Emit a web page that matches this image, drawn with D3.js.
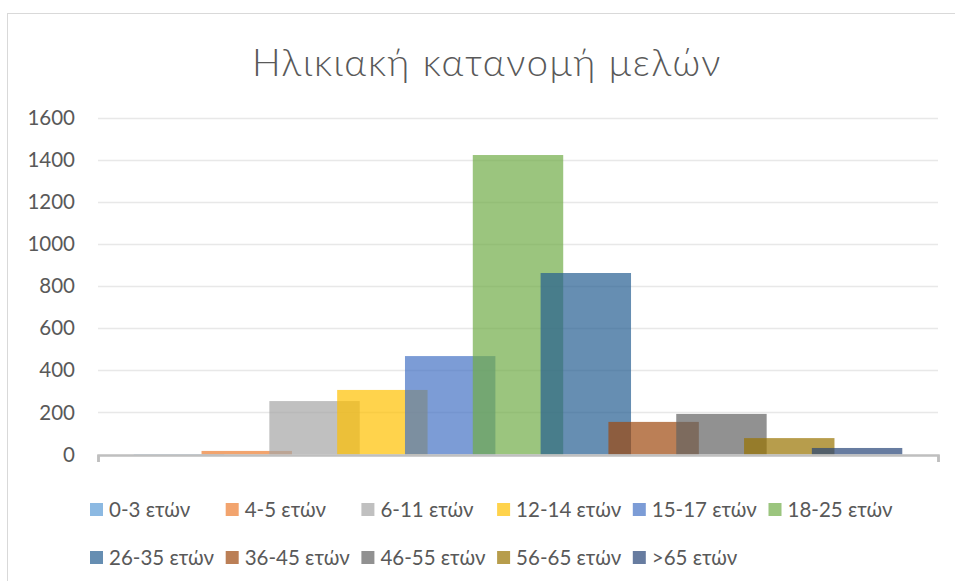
<!DOCTYPE html>
<html>
<head>
<meta charset="utf-8">
<script src="https://cdn.jsdelivr.net/npm/d3@7"></script>
<style>
  body { margin: 0; background: #fff; }
  text { font-family: Lato, "Open Sans", "Noto Sans", sans-serif; fill: #595959; }
</style>
</head>
<body>
<script>
//==============================================================================
// DATA
//==============================================================================

const title = 'Ηλικιακή κατανομή μελών';
const category = ['Μέλη'];
const series = ['0-3 ετών', '4-5 ετών', '6-11 ετών', '12-14 ετών', '15-17 ετών', '18-25 ετών',
  '26-35 ετών', '36-45 ετών', '46-55 ετών', '56-65 ετών', '>65 ετών'];
const values = [2, 17, 254, 307, 468, 1424, 863, 155, 193, 78, 31];
const yTicks = [0, 200, 400, 600, 800, 1000, 1200, 1400, 1600];
const colors = ['#5B9BD5', '#ED7D31', '#A5A5A5', '#FFC000', '#4472C4', '#70AD47',
  '#255E91', '#9E480E', '#636363', '#997300', '#264478'];

//==============================================================================
// PARAMETERS
//==============================================================================

const W = 955, H = 581;
const plot = { left: 98, right: 938, top: 118, bottom: 454.5 };
const overlap = 0.25, gapWidth = 0.79;

const svg = d3.select('body').append('svg')
  .attr('width', W)
  .attr('height', H);

// chart frame
svg.append('rect')
  .attr('x', 7.5).attr('y', 13.5)
  .attr('width', 1000).attr('height', 700)
  .attr('fill', '#fff')
  .attr('stroke', '#D9D9D9');

// scales
const y = d3.scaleLinear().domain([0, 1600]).range([plot.bottom, plot.top]);
const xCat = d3.scaleBand().domain(category).range([plot.left, plot.right]);
const barW = xCat.bandwidth() / (1 + (series.length - 1) * (1 - overlap) + gapWidth);
const groupW = barW * (1 + (series.length - 1) * (1 - overlap));
const xSeries = d3.scalePoint().domain(series)
  .range([0, groupW - barW])
  .padding(0);
const color = d3.scaleOrdinal().domain(series).range(colors);

//==============================================================================
// DRAW
//==============================================================================

// title
svg.append('text')
  .attr('x', 487).attr('y', 76)
  .attr('text-anchor', 'middle')
  .style('font-size', '38px')
  .style('font-weight', 300)
  .style('letter-spacing', '1.6px')
  .text(title);

// gridlines
svg.append('g')
  .selectAll('line')
  .data(yTicks.filter(d => d > 0))
  .join('line')
  .attr('x1', plot.left).attr('x2', plot.right)
  .attr('y1', d => Math.round(y(d)) + 0.5)
  .attr('y2', d => Math.round(y(d)) + 0.5)
  .attr('stroke', '#E8E8E8')
  .attr('stroke-width', 1.5);

// y axis labels
const yAxis = svg.append('g')
  .attr('transform', `translate(${plot.left - 23},0)`)
  .call(d3.axisLeft(y).tickValues(yTicks).tickSize(0).tickPadding(0)
    .tickFormat(d3.format('d')));
yAxis.select('.domain').remove();
yAxis.selectAll('text')
  .attr('fill', '#595959')
  .style('font-size', '20.5px')
  .style('font-family', 'Lato, "Open Sans", sans-serif');

// bars
const x0 = xCat(category[0]) + (xCat.bandwidth() - groupW) / 2;
svg.append('g')
  .selectAll('rect')
  .data(series.map((s, i) => ({ s, v: values[i] })))
  .join('rect')
  .attr('x', d => x0 + xSeries(d.s))
  .attr('y', d => y(d.v))
  .attr('width', barW)
  .attr('height', d => y(0) - y(d.v))
  .attr('fill', d => color(d.s))
  .attr('fill-opacity', 0.7);

// x axis line with end ticks
const xAxis = svg.append('g')
  .attr('transform', `translate(0,${plot.bottom + 0.5})`)
  .call(d3.axisBottom(d3.scaleLinear().range([plot.left, plot.right]))
    .tickValues([0, 1]).tickSize(7).tickFormat(''));
xAxis.selectAll('path, line')
  .attr('stroke', '#BFBFBF')
  .attr('stroke-width', 2.5);

// legend
const cols = 6;
const legX = d3.scaleLinear().domain([0, 1]).range([90, 90 + 135.7]);
const legY = [503, 551];
const leg = svg.append('g')
  .selectAll('g')
  .data(series)
  .join('g')
  .attr('transform', (d, i) => `translate(${legX(i % cols)},${legY[Math.floor(i / cols)]})`);

leg.append('rect')
  .attr('width', 13).attr('height', 13)
  .attr('fill', d => color(d))
  .attr('fill-opacity', 0.7);

leg.append('text')
  .attr('x', 19).attr('y', 14)
  .style('font-size', '20.5px')
  .text(d => d);
</script>
</body>
</html>
